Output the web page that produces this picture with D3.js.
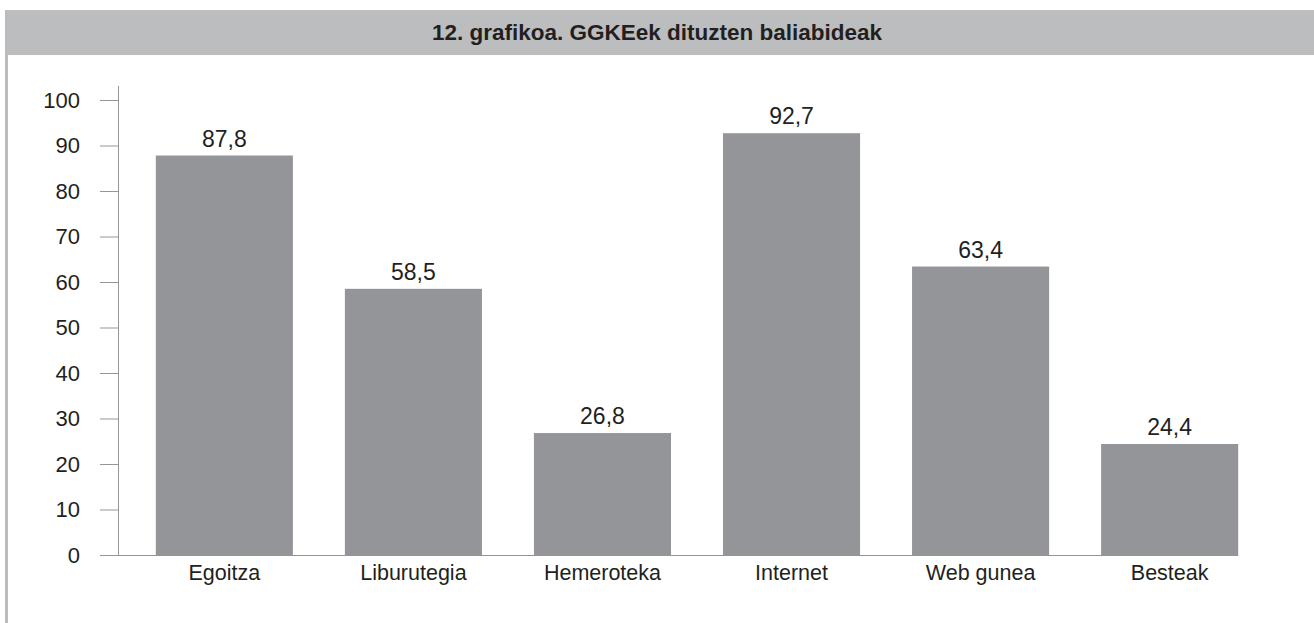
<!DOCTYPE html>
<html>
<head>
<meta charset="utf-8">
<script src="https://cdn.jsdelivr.net/npm/d3@7"></script>
<style>
  body { margin: 0; background: #fff; }
  text { font-family: "Liberation Sans", Arial, sans-serif; fill: #231f20; }
</style>
</head>
<body>
<div id="chart"></div>
<script>
// data
const categories = ["Egoitza", "Liburutegia", "Hemeroteka", "Internet", "Web gunea", "Besteak"];
const values = [87.8, 58.5, 26.8, 92.7, 63.4, 24.4];
const yTicks = [0, 10, 20, 30, 40, 50, 60, 70, 80, 90, 100];
const title = "12. grafikoa. GGKEek dituzten baliabideak";

function createBarChart() {
    const width = 1314;
    const height = 623;
    const grey = "#bcbdbf";
    const barColor = "#939598";

    const svg = d3.select("#chart")
        .append("svg")
        .attr("width", width)
        .attr("height", height);

    // title band + left frame line
    svg.append("rect")
        .attr("x", 5).attr("y", 10)
        .attr("width", width - 5).attr("height", 45)
        .attr("fill", grey);
    svg.append("rect")
        .attr("x", 5).attr("y", 55)
        .attr("width", 3).attr("height", height - 55)
        .attr("fill", grey);

    svg.append("text")
        .attr("x", 657)
        .attr("y", 40)
        .attr("text-anchor", "middle")
        .attr("font-size", 22.5)
        .attr("font-weight", "bold")
        .text(title);

    const x = d3.scaleBand()
        .domain(categories)
        .range([118, 1276])
        .paddingInner(0.275)
        .paddingOuter(0.2);

    const y = d3.scaleLinear()
        .domain([0, 100])
        .range([555, 100]);

    // y axis
    const yAxis = svg.append("g")
        .attr("transform", "translate(118,0)")
        .call(d3.axisLeft(y).tickValues(yTicks).tickSize(18).tickPadding(20).tickSizeOuter(0));
    yAxis.select(".domain").remove();
    yAxis.selectAll(".tick line").attr("stroke", barColor).attr("stroke-width", 1);
    yAxis.selectAll(".tick text")
        .attr("font-size", 22)
        .attr("font-family", "Liberation Sans, Arial, sans-serif")
        .attr("fill", "#231f20");

    svg.append("line")
        .attr("x1", 118.5).attr("x2", 118.5)
        .attr("y1", y(100) - 14).attr("y2", y(0))
        .attr("stroke", barColor);

    // baseline
    svg.append("line")
        .attr("x1", 100).attr("x2", x(categories[categories.length - 1]) + x.bandwidth())
        .attr("y1", y(0) + 0.5).attr("y2", y(0) + 0.5)
        .attr("stroke", barColor);

    // bars
    svg.selectAll(".bar")
        .data(values)
        .enter()
        .append("rect")
        .attr("class", "bar")
        .attr("x", (d, i) => x(categories[i]))
        .attr("y", d => y(d))
        .attr("width", x.bandwidth())
        .attr("height", d => y(0) - y(d) + 1)
        .attr("fill", barColor);

    // value labels
    svg.selectAll(".val")
        .data(values)
        .enter()
        .append("text")
        .attr("class", "val")
        .attr("x", (d, i) => x(categories[i]) + x.bandwidth() / 2)
        .attr("y", d => y(d) - 9)
        .attr("text-anchor", "middle")
        .attr("font-size", 23)
        .text(d => d3.format(".1f")(d).replace(".", ","));

    // category labels
    svg.selectAll(".cat")
        .data(categories)
        .enter()
        .append("text")
        .attr("class", "cat")
        .attr("x", d => x(d) + x.bandwidth() / 2)
        .attr("y", 580)
        .attr("text-anchor", "middle")
        .attr("font-size", 21.5)
        .text(d => d);
}

createBarChart();
</script>
</body>
</html>
